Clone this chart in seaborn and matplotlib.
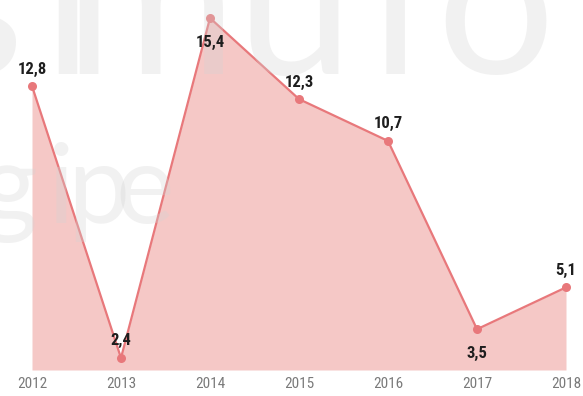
import matplotlib
matplotlib.use("Agg")
import matplotlib.pyplot as plt
from matplotlib import font_manager as fm
import seaborn as sns
import pandas as pd

years = [2012, 2013, 2014, 2015, 2016, 2017, 2018]
values = [12.8, 2.4, 15.4, 12.3, 10.7, 3.5, 5.1]
# label placement: +1 above the point, -1 below
label_side = [1, 1, -1, 1, 1, -1, 1]

sns.set_theme(style="white")
plt.rcParams["font.family"] = ["Roboto", "DejaVu Sans"]

# prefer a condensed face for the numbers when one is installed
faces = fm.fontManager.ttflist
cond = None
for want in ["Roboto Condensed", "Liberation Sans Narrow", "Open Sans Condensed"]:
    if any(f.name == want for f in faces):
        cond = dict(family=want)
        break
if cond is None and any(f.name == "DejaVu Sans" and f.stretch == "condensed" for f in faces):
    cond = dict(family="DejaVu Sans", stretch="condensed")
if cond is None:
    cond = dict(family="Roboto")

df = pd.DataFrame({"year": years, "value": values})

line_col = "#e8787b"
fill_col = "#f5c8c6"

W, H = 583, 396
fig = plt.figure(figsize=(W / 100, H / 100), dpi=100)
fig.patch.set_facecolor("white")

ax = fig.add_axes([32 / W, 26 / H, 534 / W, 370 / H])
ax.patch.set_alpha(0)
ymin, ymax = 1.94, 16.09
ax.set_xlim(2012, 2018)
ax.set_ylim(ymin, ymax)

ax.fill_between(df["year"], df["value"], ymin, color=fill_col, lw=0, zorder=1)
sns.lineplot(data=df, x="year", y="value", ax=ax, color=line_col, lw=1.6,
             marker="o", markersize=6.5, markeredgewidth=0, zorder=3, clip_on=False)

# faint lettering over the plot area (pixel centre x, baseline y from top)
wm_kw = dict(color="#d4d4d4", alpha=0.32, family="Lato", ha="center", va="baseline",
             transform=fig.transFigure, zorder=4, clip_on=False)
for ch, cx in [("s", -22), ("i", 67), ("m", 150), ("u", 294), ("l", 395), ("o", 495)]:
    ax.text(cx / W, 1 - 74 / H, ch, fontsize=150, fontweight="normal", **wm_kw)
for ch, cx in [("g", 8), ("i", 61), ("p", 98), ("e", 145)]:
    ax.text(cx / W, 1 - 223 / H, ch, fontsize=80, **wm_kw)

for x, y, s in zip(years, values, label_side):
    txt = f"{y:.1f}".replace(".", ",")
    ax.annotate(txt, (x, y), xytext=(0, 17 if s > 0 else -24),
                textcoords="offset pixels", ha="center", va="center",
                fontsize=12, fontweight="semibold", color="#1e1e1e", zorder=6, **cond)

ax.set_xticks(years)
ax.set_xticklabels([str(y) for y in years], **cond)
ax.tick_params(axis="x", length=0, pad=5, labelsize=11, labelcolor="#7a7a7a")
ax.set_yticks([])
ax.set_xlabel("")
ax.set_ylabel("")
for sp in ax.spines.values():
    sp.set_visible(False)

fig.savefig("out.png", dpi=100, facecolor="white")
